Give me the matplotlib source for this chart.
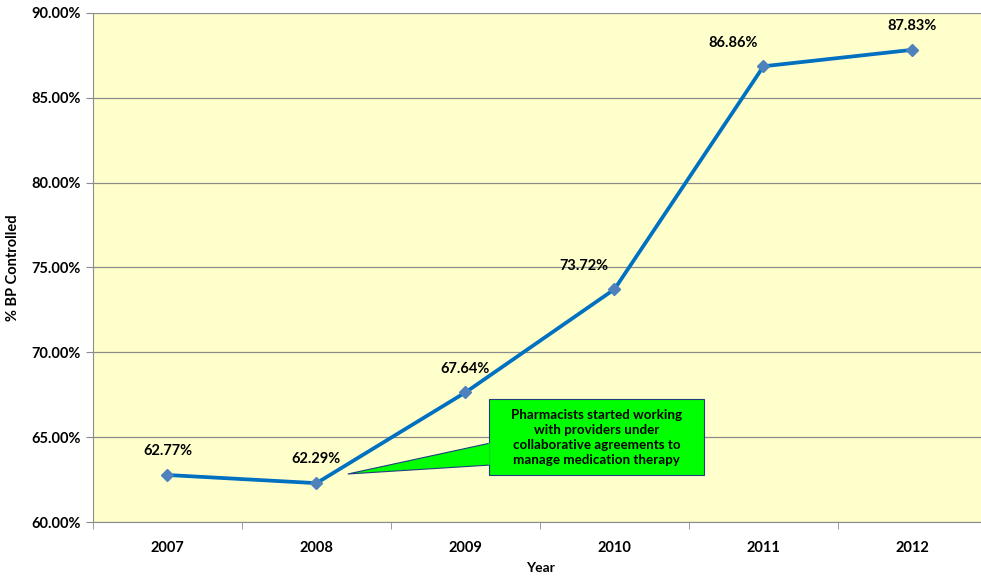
import matplotlib.pyplot as plt
from matplotlib.patches import Polygon, Rectangle
from matplotlib.ticker import FixedLocator, PercentFormatter

plt.rcParams['font.family'] = ['Lato', 'DejaVu Sans']

# data
years = ['2007', '2008', '2009', '2010', '2011', '2012']
bp_controlled = [62.77, 62.29, 67.64, 73.72, 86.86, 87.83]
note = ('Pharmacists started working\nwith providers under\n'
        'collaborative agreements to\nmanage medication therapy')

# label offsets in points (dx, dy) relative to each marker
label_offsets = [(0, 12), (0, 12), (0, 12), (-22, 12), (-22, 12), (0, 12)]

fig = plt.figure(figsize=(9.81, 5.77), dpi=100)
ax = fig.add_axes([0.0948, 0.0953, 0.9113, 0.8822])
ax.set_facecolor('#FFFFCC')

x = list(range(len(years)))
ax.plot(x, bp_controlled, color='#0070C0', lw=2.7, marker='D', ms=6,
        mfc='#4F81BD', mec='#4F81BD', zorder=4)

for i, v in enumerate(bp_controlled):
    dx, dy = label_offsets[i]
    ax.annotate(f'{v:.2f}%', (i, v), xytext=(dx, dy), textcoords='offset points',
                ha='center', va='bottom', fontsize=10.5, fontweight='bold', zorder=5)

# callout box with wedge pointing at 2008
bx0, bx1, by0, by1 = 2.16, 3.60, 62.77, 67.25
tip = (1.21, 62.83)
wedge = Polygon([tip, (bx0 + 0.01, 64.66), (bx0 + 0.01, 63.36)], closed=True,
                facecolor='#00FF00', edgecolor='#1F3F7F', lw=0.8, zorder=6)
ax.add_patch(wedge)
box = Rectangle((bx0, by0), bx1 - bx0, by1 - by0, facecolor='#00FF00',
                edgecolor='#1F3F7F', lw=0.8, zorder=6)
ax.add_patch(box)
# hide the box edge where the wedge joins it
ax.plot([bx0, bx0], [63.40, 64.62], color='#00FF00', lw=1.2, zorder=7)
ax.text((bx0 + bx1) / 2, (by0 + by1) / 2, note, ha='center', va='center',
        fontsize=9.6, fontweight='bold', linespacing=1.3, zorder=8)

ax.set_xlim(-0.5, len(years) - 0.5)
ax.set_ylim(60, 90)
ax.yaxis.set_major_locator(FixedLocator([60, 65, 70, 75, 80, 85, 90]))
ax.yaxis.set_major_formatter(PercentFormatter(decimals=2))
ax.grid(axis='y', color='#8C8C8C', lw=0.9, zorder=1)
ax.set_axisbelow(True)

ax.set_xticks(x)
ax.set_xticklabels(years)
ax.set_xticks([i - 0.5 for i in range(len(years) + 1)], minor=True)
ax.tick_params(axis='x', which='major', length=0, pad=14)
ax.tick_params(axis='x', which='minor', length=5, color='#8C8C8C')
ax.tick_params(axis='y', length=5, color='#8C8C8C', pad=4)
for lbl in ax.get_xticklabels() + ax.get_yticklabels():
    lbl.set_fontsize(10.5)
    lbl.set_fontweight('bold')

for s in ['top', 'right']:
    ax.spines[s].set_visible(False)
for s in ['left', 'bottom']:
    ax.spines[s].set_color('#8C8C8C')

ax.set_xlabel('Year', fontsize=10, fontweight='bold', labelpad=5)
ax.set_ylabel('% BP Controlled', fontsize=10.5, fontweight='bold', labelpad=8)

fig.savefig('out.png', dpi=100)
